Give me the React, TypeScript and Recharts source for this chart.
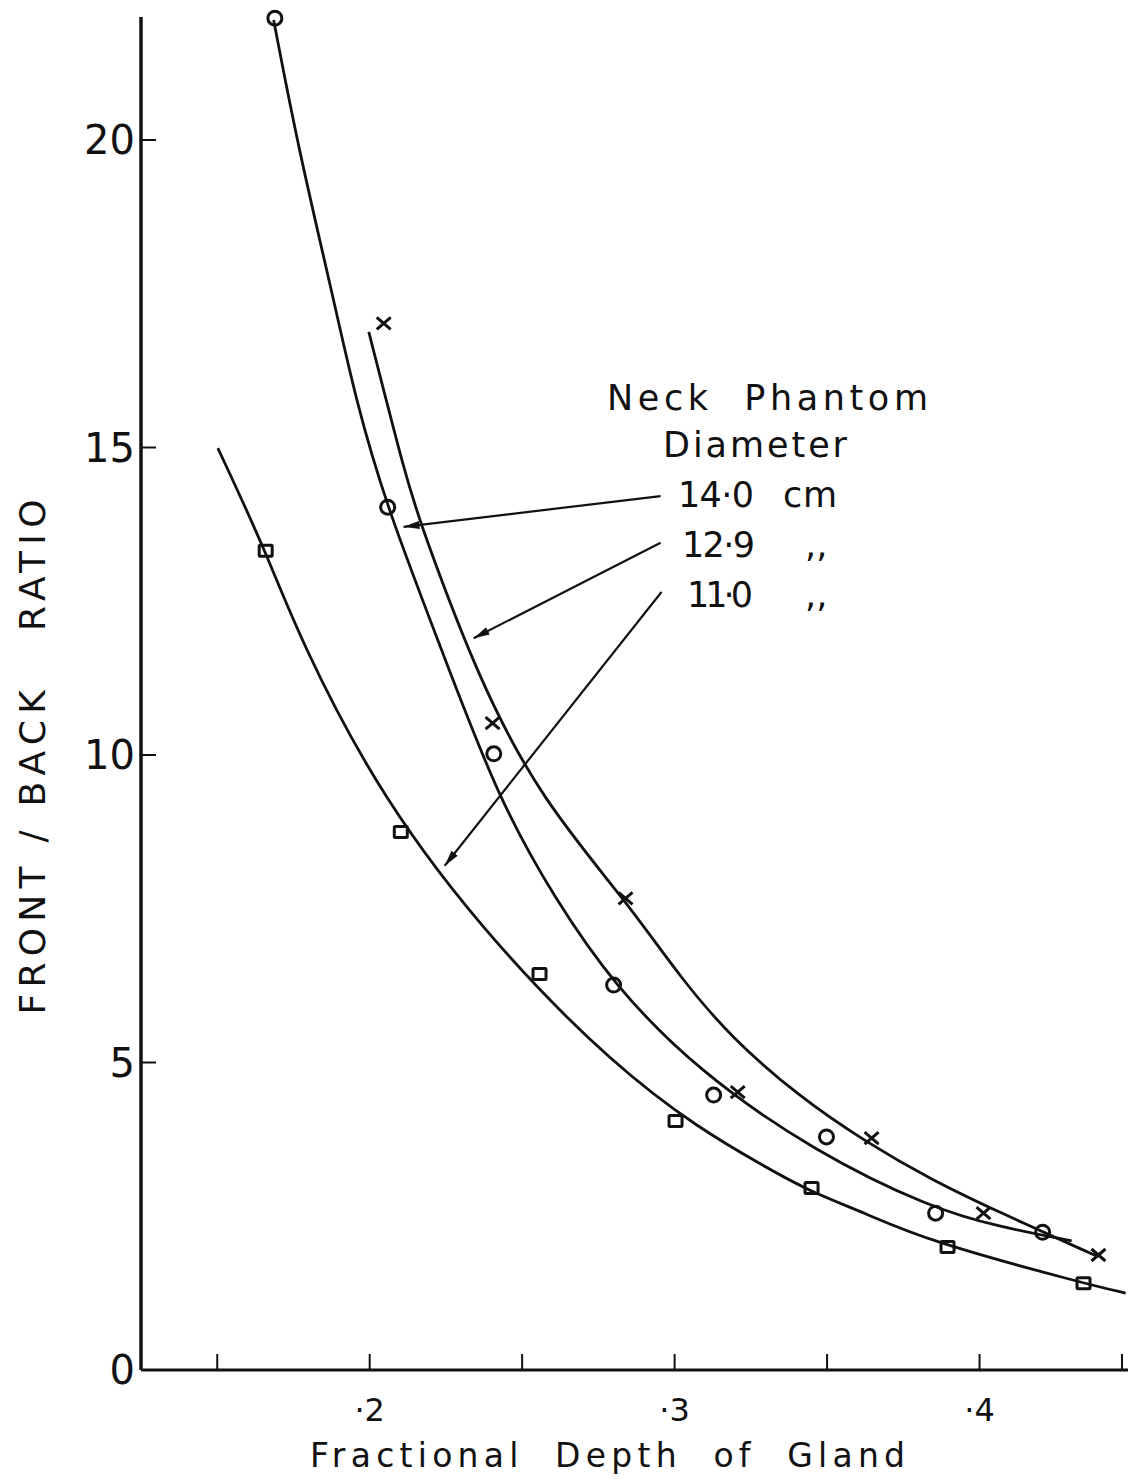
import React from "react";
import { ComposedChart, Line, Scatter, XAxis, YAxis, ReferenceLine } from "recharts";

// fitted curves
const curve140X = [0.1685, 0.1767, 0.1875, 0.1954, 0.2056, 0.2236, 0.2423, 0.261, 0.28, 0.3079, 0.3462, 0.3843, 0.4062, 0.4302];
const curve140Y = [21.95, 19.84, 17.56, 15.77, 14.03, 11.71, 9.27, 7.64, 6.26, 4.85, 3.54, 2.63, 2.33, 2.1];
const curve129X = [0.1997, 0.2121, 0.217, 0.2357, 0.2564, 0.2839, 0.3023, 0.3187, 0.3407, 0.3626, 0.3843, 0.4062, 0.439];
const curve129Y = [16.88, 14.47, 13.71, 11.22, 9.27, 7.64, 6.35, 5.4, 4.45, 3.71, 3.09, 2.57, 1.84];
const curve110X = [0.1502, 0.1659, 0.1767, 0.2039, 0.2423, 0.2807, 0.3079, 0.3298, 0.3449, 0.3626, 0.3823, 0.4341, 0.4479];
const curve110Y = [14.99, 13.32, 11.92, 9.27, 6.83, 4.93, 3.93, 3.3, 2.89, 2.55, 2.11, 1.41, 1.25];

// measured points
const pts140X = [0.1689, 0.2059, 0.2407, 0.28, 0.3128, 0.3498, 0.3856, 0.4207];
const pts140Y = [21.98, 14.03, 10.02, 6.26, 4.47, 3.79, 2.55, 2.24];
const pts129X = [0.2046, 0.2403, 0.2839, 0.3207, 0.3646, 0.4013, 0.439];
const pts129Y = [17.02, 10.52, 7.67, 4.52, 3.77, 2.55, 1.87];
const pts110X = [0.1659, 0.2102, 0.2557, 0.3003, 0.3449, 0.3895, 0.4341];
const pts110Y = [13.32, 8.75, 6.44, 4.05, 2.96, 2.0, 1.41];

const xTicks = [0.15, 0.2, 0.25, 0.3, 0.35, 0.4, 0.45];
const xLabelled = [0.2, 0.3, 0.4];
const yTicks = [0, 5, 10, 15, 20];

// legend arrows: [fromX, fromY, toX, toY]
const arrows = [
  [0.2954, 14.21, 0.2111, 13.71],
  [0.2954, 13.45, 0.2341, 11.9],
  [0.2957, 12.65, 0.2246, 8.2],
];

const zip = (xs: number[], ys: number[]) => xs.map((x, i) => ({ x, y: ys[i] }));

const FONT = "'DejaVu Sans', sans-serif";
const INK = "#111";

const Circle = (p: any) => <circle cx={p.cx} cy={p.cy} r={7} fill="none" stroke={INK} strokeWidth={3} />;
const Cross = (p: any) => (
  <path d={`M${p.cx - 7},${p.cy - 6}L${p.cx + 7},${p.cy + 6}M${p.cx + 7},${p.cy - 6}L${p.cx - 7},${p.cy + 6}`} stroke={INK} strokeWidth={3} />
);
const Square = (p: any) => <rect x={p.cx - 6.5} y={p.cy - 5.5} width={13} height={11} rx={1} fill="none" stroke={INK} strokeWidth={3} />;

const XTick = (p: any) => {
  const v = p.payload.value;
  const show = xLabelled.some((t) => Math.abs(t - v) < 1e-6);
  return (
    <g>
      <line x1={p.x} y1={p.y} x2={p.x} y2={p.y - 16} stroke={INK} strokeWidth={2} />
      {show && (
        <text x={p.x} y={p.y + 51} textAnchor="middle" fontFamily={FONT} fontSize={32} fill={INK}>
          {"·" + Math.round(v * 10)}
        </text>
      )}
    </g>
  );
};

const YTick = (p: any) => (
  <g>
    <line x1={p.x} y1={p.y} x2={p.x + 15} y2={p.y} stroke={INK} strokeWidth={2} />
    <text x={p.x - 6} y={p.y + 14} textAnchor="end" fontFamily={FONT} fontSize={40} fill={INK}>
      {p.payload.value}
    </text>
  </g>
);

export default function App() {
  return (
    <div style={{ position: "relative", width: 1128, height: 1474, background: "#fff" }}>
      <svg width={0} height={0} style={{ position: "absolute" }}>
        <defs>
          <marker id="arrowhead" markerUnits="userSpaceOnUse" markerWidth={18} markerHeight={10} refX={16} refY={5} orient="auto">
            <path d="M0,1 L16,5 L0,9 Z" fill={INK} />
          </marker>
        </defs>
      </svg>
      <ComposedChart width={1128} height={1474} margin={{ top: 9, right: 4, bottom: 0, left: 0 }}>
        <XAxis
          type="number"
          dataKey="x"
          domain={[0.125, 0.45]}
          ticks={xTicks}
          height={112}
          tickSize={0}
          tickMargin={0}
          tickLine={false}
          tick={<XTick />}
          axisLine={{ stroke: INK, strokeWidth: 3 }}
        />
        <YAxis
          type="number"
          dataKey="y"
          domain={[0, 22]}
          ticks={yTicks}
          width={133}
          tickSize={0}
          tickMargin={0}
          tickLine={false}
          tick={<YTick />}
          axisLine={{ stroke: INK, strokeWidth: 3.5 }}
        />
        <Line data={zip(curve140X, curve140Y)} dataKey="y" type="basis" stroke={INK} strokeWidth={2.8} dot={false} isAnimationActive={false} />
        <Line data={zip(curve129X, curve129Y)} dataKey="y" type="basis" stroke={INK} strokeWidth={2.8} dot={false} isAnimationActive={false} />
        <Line data={zip(curve110X, curve110Y)} dataKey="y" type="basis" stroke={INK} strokeWidth={2.8} dot={false} isAnimationActive={false} />
        <Scatter data={zip(pts140X, pts140Y)} shape={Circle} isAnimationActive={false} />
        <Scatter data={zip(pts129X, pts129Y)} shape={Cross} isAnimationActive={false} />
        <Scatter data={zip(pts110X, pts110Y)} shape={Square} isAnimationActive={false} />
        {arrows.map((a, i) => (
          <ReferenceLine
            key={i}
            segment={[{ x: a[0], y: a[1] }, { x: a[2], y: a[3] }]}
            stroke={INK}
            strokeWidth={2.2}
            markerEnd="url(#arrowhead)"
            ifOverflow="visible"
          />
        ))}
      </ComposedChart>
      <svg width={1128} height={1474} style={{ position: "absolute", left: 0, top: 0, pointerEvents: "none" }} fontFamily={FONT} fill={INK}>
        <text transform="rotate(-90)" x={-749} y={37} textAnchor="middle" fontSize={36} textLength={515} lengthAdjust="spacing" style={{ whiteSpace: "pre" }}>
          {"FRONT / BACK   RATIO"}
        </text>
        <text x={302} y={1459} fontSize={33} textLength={595} lengthAdjust="spacing" style={{ whiteSpace: "pre" }}>
          {"Fractional  Depth  of  Gland"}
        </text>
        <text x={599} y={402} fontSize={35} textLength={321} lengthAdjust="spacing" style={{ whiteSpace: "pre" }}>
          {"Neck  Phantom"}
        </text>
        <text x={655} y={449} fontSize={35} textLength={184} lengthAdjust="spacing">
          Diameter
        </text>
        <text x={670} y={499} fontSize={35} textLength={76} lengthAdjust="spacing">
          14·0
        </text>
        <text x={775} y={499} fontSize={35} textLength={54} lengthAdjust="spacing">
          cm
        </text>
        <text x={674} y={549} fontSize={35} textLength={73} lengthAdjust="spacing">
          12·9
        </text>
        <text x={797} y={549} fontSize={35}>
          ,,
        </text>
        <text x={679} y={599} fontSize={35} textLength={66} lengthAdjust="spacing">
          11·0
        </text>
        <text x={797} y={599} fontSize={35}>
          ,,
        </text>
      </svg>
    </div>
  );
}
